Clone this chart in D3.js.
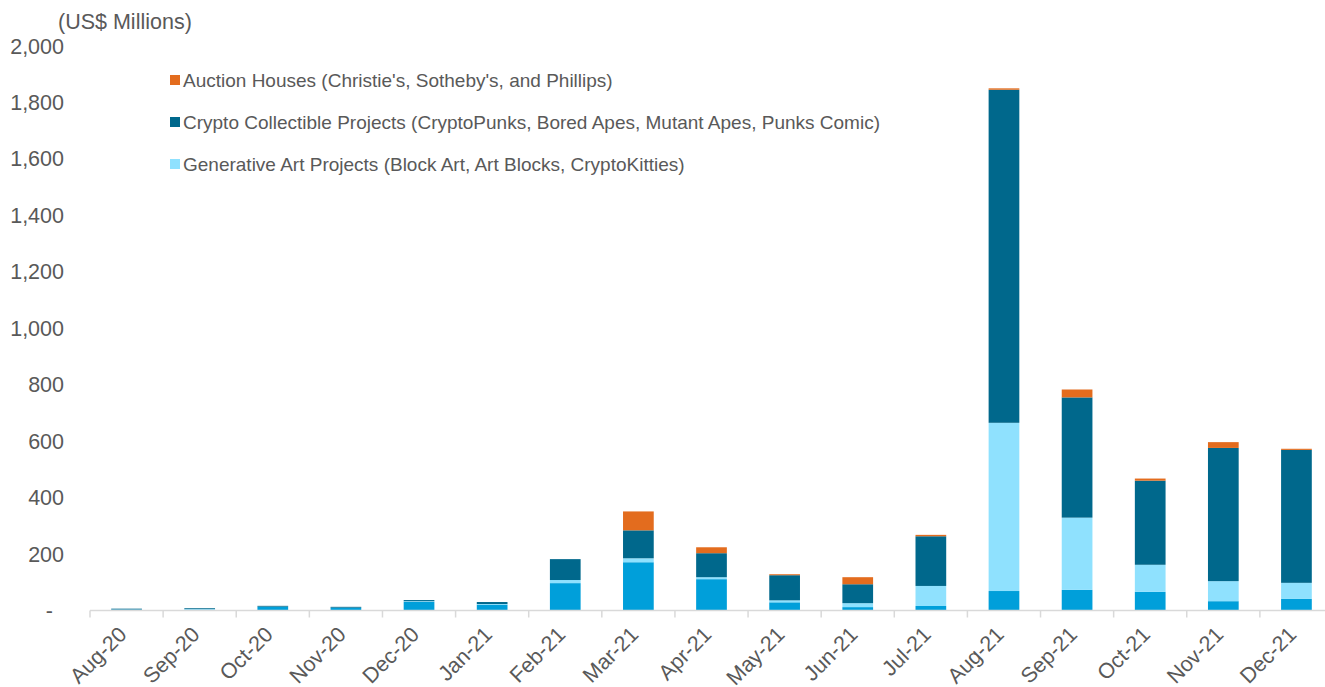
<!DOCTYPE html>
<html>
<head>
<meta charset="utf-8">
<script src="https://cdn.jsdelivr.net/npm/d3@7"></script>
<style>
  body { margin: 0; background: #fff; }
  svg { display: block; font-family: "Liberation Sans", Arial, sans-serif; }
</style>
</head>
<body>
<div id="chart"></div>
<script>
// Monthly NFT sales by project type (US$ millions)
const months = ["Aug-20","Sep-20","Oct-20","Nov-20","Dec-20","Jan-21","Feb-21","Mar-21","Apr-21",
                "May-21","Jun-21","Jul-21","Aug-21","Sep-21","Oct-21","Nov-21","Dec-21"];
const otherProjects = [3, 3, 13, 10, 31, 21, 97, 171, 111, 29, 12, 16, 69, 73, 66, 33, 41];
const generativeArt = [0.5, 2, 0.5, 0, 2, 2, 11, 14, 7, 7, 14, 71, 596, 256, 96, 71, 57];
const cryptoCollectible = [3, 3, 3, 3, 4, 7, 74, 99, 85, 89, 67, 176, 1180, 426, 298, 472, 471];
const auctionHouses = [0, 0, 0, 0, 0, 0, 0, 67, 21, 3.5, 25, 5, 5, 28, 7.5, 20.5, 4];
const yTicks = [0, 200, 400, 600, 800, 1000, 1200, 1400, 1600, 1800, 2000];

const seriesKeys = ["other", "generative", "crypto", "auction"];
const colors = { other: "#009FDA", generative: "#8FE1FE", crypto: "#00688C", auction: "#E36C1E" };
const legendItems = [
  { key: "auction", label: "Auction Houses (Christie's, Sotheby's, and Phillips)" },
  { key: "crypto", label: "Crypto Collectible Projects (CryptoPunks, Bored Apes, Mutant Apes, Punks Comic)" },
  { key: "generative", label: "Generative Art Projects (Block Art, Art Blocks, CryptoKitties)" }
];

const table = months.map((m, i) => ({
  month: m,
  other: otherProjects[i],
  generative: generativeArt[i],
  crypto: cryptoCollectible[i],
  auction: auctionHouses[i]
}));

const W = 1325, H = 687;
const textColor = "#595959";
const axisColor = "#D9D9D9";

const svg = d3.select("#chart").append("svg")
  .attr("width", W)
  .attr("height", H);

const x = d3.scaleBand()
  .domain(months)
  .range([90, 1333])
  .paddingInner(0.58)
  .paddingOuter(0.29);

const y = d3.scaleLinear()
  .domain([0, 2000])
  .range([610.5, 46]);

const stacked = d3.stack().keys(seriesKeys)(table);

// bars
svg.append("g").selectAll("g")
  .data(stacked)
  .enter().append("g")
  .attr("fill", d => colors[d.key])
  .selectAll("rect")
  .data(d => d)
  .enter().append("rect")
  .attr("x", d => x(d.data.month))
  .attr("width", x.bandwidth())
  .attr("y", d => y(d[1]))
  .attr("height", d => Math.max(0, y(d[0]) - y(d[1])));

// x axis line and category boundary ticks
const step = x.step();
const xAxis = svg.append("g").attr("transform", `translate(0,${y(0)})`);
xAxis.append("line")
  .attr("x1", 90).attr("x2", W)
  .attr("stroke", axisColor).attr("stroke-width", 1.5);
xAxis.selectAll("line.tick")
  .data(d3.range(months.length + 1))
  .enter().append("line")
  .attr("class", "tick")
  .attr("x1", i => 90 + i * step).attr("x2", i => 90 + i * step)
  .attr("y1", 0).attr("y2", 7)
  .attr("stroke", axisColor).attr("stroke-width", 1.5);

xAxis.selectAll("text")
  .data(months)
  .enter().append("text")
  .attr("transform", d => `translate(${x(d) + x.bandwidth() / 2 - 4},${20}) rotate(-45)`)
  .attr("text-anchor", "end")
  .attr("dy", "0.35em")
  .attr("font-size", 21.5)
  .attr("fill", textColor)
  .text(d => d);

// y axis labels
const fmt = d3.format(",");
svg.append("g").selectAll("text")
  .data(yTicks)
  .enter().append("text")
  .attr("x", 64)
  .attr("y", d => y(d))
  .attr("dy", "0.35em")
  .attr("text-anchor", "end")
  .attr("font-size", 21.5)
  .attr("fill", textColor)
  .text(d => d === 0 ? "-" : fmt(d))
  .filter(d => d === 0)
  .attr("x", 53);

svg.append("text")
  .attr("x", 58)
  .attr("y", 29)
  .attr("font-size", 21.5)
  .attr("fill", textColor)
  .text("(US$ Millions)");

// legend
const legend = svg.append("g").selectAll("g")
  .data(legendItems)
  .enter().append("g")
  .attr("transform", (d, i) => `translate(170,${80 + i * 42})`);
legend.append("rect")
  .attr("x", 0).attr("y", -5)
  .attr("width", 10).attr("height", 10)
  .attr("fill", d => colors[d.key]);
legend.append("text")
  .attr("x", 13)
  .attr("dy", "0.35em")
  .attr("font-size", 19)
  .attr("fill", textColor)
  .text(d => d.label);
</script>
</body>
</html>
